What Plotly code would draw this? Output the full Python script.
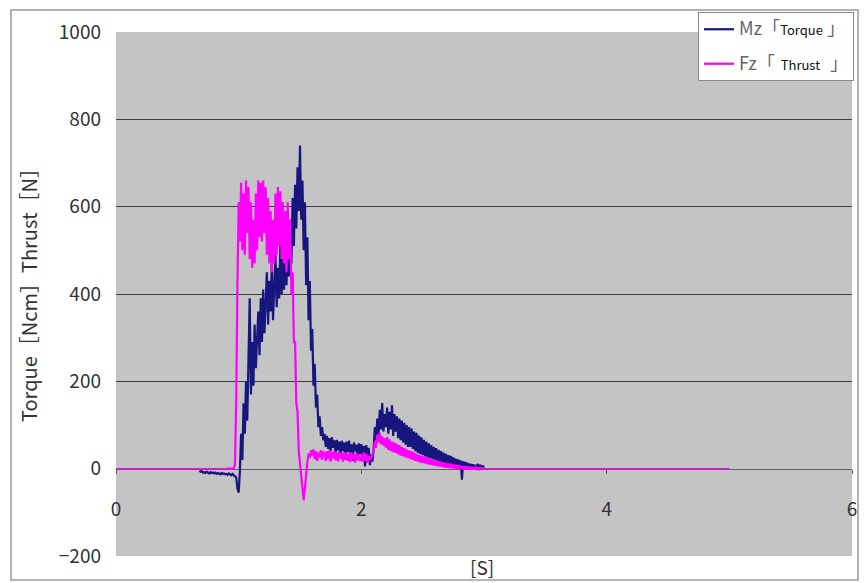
import plotly.graph_objects as go

# ---------------- data ----------------
# Mz [Torque]  sampled every 0.01 s starting at 0.68 s
mz_t0 = 0.68
mz_dt = 0.01
mz_values = [
    -5, -7,
    -6, -9, -8, -10, -7, -9, -11, -8, -10, -9,
    -11, -9, -12, -10, -11, -13, -10, -12, -11, -13,
    -12, -14, -11, -13, -15, -12, -14, -16, -20, -45,
    -55, -5, 80, 20, 150, 80, 200, 110, 240, 390,
    170, 290, 190, 330, 230, 310, 360, 260, 390, 290,
    410, 310, 380, 450, 330, 430, 360, 470, 340, 440,
    490, 370, 460, 390, 510, 400, 480, 410, 520, 420,
    530, 440, 570, 470, 620, 510, 650, 550, 690, 590,
    740, 570, 660, 500, 610, 420, 530, 340, 430, 270,
    320, 190, 240, 140, 170, 95, 120, 75, 95, 65,
    80, 50, 75, 45, 70, 40, 72, 48, 65, 35,
    66, 42, 62, 30, 64, 40, 60, 25, 62, 38,
    64, 35, 56, 18, 60, 40, 55, 22, 58, 34,
    56, 28, 52, 5, 54, 30, 48, 8, 32, 16,
    45, 95, 65, 115, 75, 135, 90, 150, 85, 125,
    95, 140, 80, 130, 90, 145, 75, 125, 85, 120,
    70, 115, 65, 110, 60, 105, 55, 100, 50, 95,
    50, 92, 45, 85, 40, 82, 36, 76, 34, 72,
    31, 66, 28, 62, 26, 58, 24, 54, 22, 50,
    20, 47, 18, 43, 16, 40, 14, 37, 12, 34,
    11, 31, 9, 29, 8, 26, 7, 23, 6, 21,
    5, 19, -25, 17, 4, 15, 3, 13, 2, 11,
    1, 10, 0, 9, -1, 11, -3, 9, -2, 7,
    2,
]

# Fz [Thrust]  sampled every 0.01 s starting at 0.90 s
fz_t0 = 0.90
fz_dt = 0.01
fz_values = [
    0, 0, 0, 0, 0, 0, 0, 10, 150, 420,
    610, 520, 655, 500, 630, 490, 660, 540, 645, 480,
    610, 460, 570, 470, 630, 500, 660, 530, 655, 520,
    660, 540, 645, 490, 620, 470, 590, 450, 570, 470,
    630, 490, 645, 510, 635, 480, 610, 470, 590, 450,
    610, 480, 570, 400, 450, 290, 290, 150, 130, 40,
    10, -30, -60, -72, -45, -10, 15, 35, 25, 42,
    30, 44, 22, 40, 18, 37, 26, 42, 20, 38,
    36, 18, 40, 22, 42, 16, 38, 24, 41, 19,
    37, 17, 39, 23, 35, 16, 38, 20, 36, 18,
    34, 15, 37, 21, 33, 14, 36, 19, 32, 17,
    32, 16, 37, 18, 34, 13, 30, 20, 27, 30,
    45, 62, 48, 78, 60, 82, 56, 74, 53, 70,
    48, 72, 43, 67, 40, 62, 38, 60, 36, 57,
    33, 54, 30, 50, 28, 47, 26, 44, 24, 42,
    22, 40, 20, 37, 18, 34, 16, 32, 14, 30,
    13, 28, 12, 26, 10, 24, 9, 22, 8, 20,
    7, 18, 6, 17, 5, 16, 4, 14, 3, 13,
    2, 12, 1, 11, 1, 10, 0, 9, 0, 8,
    -1, 7, -1, 6, -2, 6, -2, 5, -2, 4,
    -2, 3, -2, 3, -1, 2, -1, 2, 0, 1,
    0,
]
# flat Fz baseline before and after the event
fz_base_before_t = [0.0, 0.90]
fz_base_before_v = [0, 0]
fz_base_after_t = [3.0, 5.0]
fz_base_after_v = [0, 0]

series_names = [
    "<span style='font-size:18px;color:#666'>Mz「</span><span style='font-size:13px;color:#111'>Torque</span><span style='font-size:18px;color:#666'> 」</span>",
    "<span style='font-size:18px;color:#666'>Fz「</span><span style='font-size:13px;color:#111'>  Thrust  </span><span style='font-size:18px;color:#666'> 」</span>",
]

x_range = [0, 6]
x_ticks = [0, 2, 4, 6]
y_range = [-200, 1000]
y_ticks = [-200, 0, 200, 400, 600, 800, 1000]
y_grid = [200, 400, 600, 800]

MZ_COLOR = "#16167e"
FZ_COLOR = "#ff00ff"
FONT = "Noto Sans CJK JP"

fig = go.Figure()
fig.add_trace(go.Scatter(
    x0=mz_t0, dx=mz_dt, y=mz_values, mode="lines",
    line=dict(color=MZ_COLOR, width=2.2), name=series_names[0],
    legendgroup="mz",
))
fig.add_trace(go.Scatter(
    x=fz_base_before_t, y=fz_base_before_v, mode="lines",
    line=dict(color=FZ_COLOR, width=1.2), showlegend=False, legendgroup="fz",
))
fig.add_trace(go.Scatter(
    x0=fz_t0, dx=fz_dt, y=fz_values, mode="lines",
    line=dict(color=FZ_COLOR, width=2.2), name=series_names[1],
    legendgroup="fz",
))
fig.add_trace(go.Scatter(
    x=fz_base_after_t, y=fz_base_after_v, mode="lines",
    line=dict(color=FZ_COLOR, width=1.2), showlegend=False, legendgroup="fz",
))

L, R, T, B = 116, 16, 32, 27
W, H = 868, 583
pw, ph = W - L - R, H - T - B

def px_x(p):
    return (p - L) / pw

def px_y(p):
    return 1 - (p - T) / ph

fig.update_layout(
    width=W, height=H,
    margin=dict(l=L, r=R, t=T, b=B),
    paper_bgcolor="#ffffff",
    plot_bgcolor="#c4c4c4",
    font=dict(family=FONT, color="#333333"),
    showlegend=True,
    legend=dict(
        x=px_x(698), y=px_y(12), xanchor="left", yanchor="top",
        bgcolor="#ffffff", bordercolor="#888888", borderwidth=1,
        font=dict(family=FONT, size=15, color="#333"),
        traceorder="grouped", tracegroupgap=12,
        itemwidth=30,
    ),
    xaxis=dict(
        range=x_range, tickvals=x_ticks, ticktext=[str(v) for v in x_ticks],
        anchor="free", position=(0 - y_range[0]) / (y_range[1] - y_range[0]),
        showgrid=False, zeroline=False,
        showline=True, linecolor="#606060", linewidth=1,
        ticks="outside", ticklen=4, tickcolor="#606060",
        tickfont=dict(family=FONT, size=19, color="#333"),
        ticklabelstandoff=20, layer="below traces",
    ),
    yaxis=dict(
        range=y_range, tickvals=y_ticks,
        showgrid=False, zeroline=False, showline=False, ticks="",
        tickfont=dict(family=FONT, size=19, color="#333"),
        ticklabelstandoff=14,
    ),
    yaxis2=dict(
        range=y_range, tickvals=y_grid, overlaying="y", side="left",
        showticklabels=False, showgrid=True, gridcolor="#3c3c3c", gridwidth=1,
        zeroline=False, showline=False, ticks="",
    ),
    shapes=[
        dict(type="rect", xref="paper", yref="paper",
             x0=px_x(11), x1=px_x(858), y0=px_y(580), y1=px_y(10),
             line=dict(color="#9a9a9a", width=1.5), fillcolor="rgba(0,0,0,0)",
             layer="below"),
    ],
    annotations=[
        dict(text="Torque［Ncm］Thrust［N］", textangle=-90,
             xref="paper", yref="paper", x=px_x(28), y=px_y(290),
             xanchor="center", yanchor="middle", showarrow=False,
             font=dict(family=FONT, size=20, color="#333")),
        dict(text="[S]", xref="paper", yref="paper", x=px_x(482), y=px_y(566),
             xanchor="center", yanchor="middle", showarrow=False,
             font=dict(family=FONT, size=19, color="#333")),
    ],
)
# dummy trace so yaxis2 is rendered
fig.add_trace(go.Scatter(x=[None], y=[None], yaxis="y2", showlegend=False, hoverinfo="skip"))

fig.write_html("out.html")
